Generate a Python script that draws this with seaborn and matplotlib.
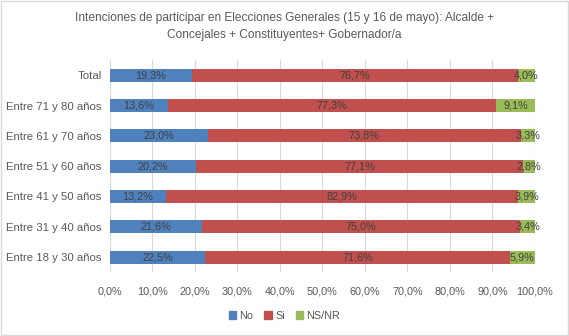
import numpy as np
import pandas as pd
import matplotlib
matplotlib.use("Agg")
import matplotlib.pyplot as plt
import seaborn as sns
from matplotlib.patches import Rectangle
from matplotlib.ticker import FuncFormatter

categories = ["Total", "Entre 71 y 80 años", "Entre 61 y 70 años", "Entre 51 y 60 años",
              "Entre 41 y 50 años", "Entre 31 y 40 años", "Entre 18 y 30 años"]
no_vals = [19.3, 13.6, 23.0, 20.2, 13.2, 21.6, 22.5]
si_vals = [76.7, 77.3, 73.8, 77.1, 82.9, 75.0, 71.6]
ns_vals = [4.0, 9.1, 3.3, 2.8, 3.9, 3.4, 5.9]
series = ["No", "Si", "NS/NR"]
colors = ["#4F81BD", "#C0504D", "#9BBB59"]
title = "Intenciones de participar en Elecciones Generales (15 y 16 de mayo): Alcalde +\nConcejales + Constituyentes+ Gobernador/a"

sns.set_theme(style="white")
plt.rcParams['font.family'] = ['Liberation Sans', 'DejaVu Sans']

fig = plt.figure(figsize=(5.69, 3.36), dpi=100)
ax = fig.add_axes([0.193, 0.19, 0.747, 0.631])

no = np.array(no_vals)
si = np.array(si_vals)
ns = np.array(ns_vals)
cum_all = np.minimum(no + si + ns, 100.0)
cum_ns = no + si

df = pd.DataFrame({"cat": categories, "no": no, "nosi": cum_ns, "all": cum_all})
bw = 0.43
sns.barplot(data=df, y="cat", x="all", color=colors[2], saturation=1, width=bw, ax=ax, orient="h")
sns.barplot(data=df, y="cat", x="nosi", color=colors[1], saturation=1, width=bw, ax=ax, orient="h")
sns.barplot(data=df, y="cat", x="no", color=colors[0], saturation=1, width=bw, ax=ax, orient="h")
for p in ax.patches:
    p.set_linewidth(0)

txtc = "#404040"
for i in range(len(categories)):
    lefts = [0, no[i], no[i] + si[i]]
    vals = [no[i], si[i], ns[i]]
    for l, v in zip(lefts, vals):
        ax.text(l + v / 2, i, f"{v:.1f}%".replace(".", ","), ha="center", va="center",
                fontsize=7.8, color=txtc)

ax.set_xlim(0, 100)
ax.set_ylim(6.5, -0.5)
ax.set_xticks(np.arange(0, 101, 10))
ax.xaxis.set_major_formatter(FuncFormatter(lambda v, p: f"{v:.1f}%".replace(".", ",")))
ax.grid(axis="x", color="#D9D9D9", linewidth=0.8)
ax.set_axisbelow(True)
for s in ax.spines.values():
    s.set_visible(False)
ax.set_xlabel("")
ax.set_ylabel("")
ax.tick_params(axis="x", labelsize=7.8, colors="#595959", length=0, pad=10)
ax.tick_params(axis="y", labelsize=8.2, colors="#595959", length=0, pad=6)

fig.text(0.5, 0.922, title, ha="center", va="center", fontsize=8.6, color="#595959", linespacing=1.55)

handles = [Rectangle((0, 0), 1, 1, color=c) for c in colors]
fig.legend(handles, series, loc="center", bbox_to_anchor=(0.5, 0.06), ncol=3, frameon=False,
           fontsize=7.8, handlelength=0.7, handleheight=0.7, handletextpad=0.3, columnspacing=1.0,
           labelcolor="#595959")

fig.patches.append(Rectangle((0.002, 0.003), 0.996, 0.994, transform=fig.transFigure,
                             fill=False, edgecolor="#D9D9D9", linewidth=1))

fig.savefig("out.png", dpi=100)
